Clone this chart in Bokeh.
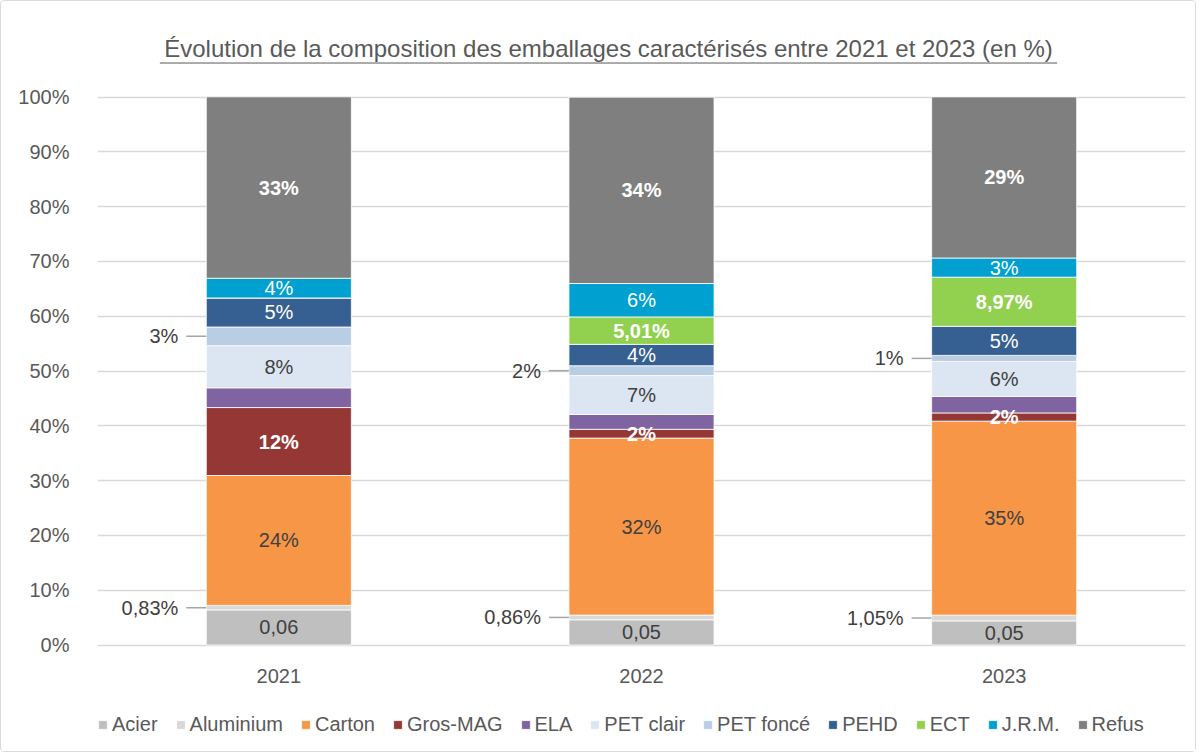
from bokeh.plotting import figure
from bokeh.models import Range1d, FixedTicker, Label, ColumnDataSource, Legend
from bokeh.embed import file_html
from bokeh.resources import INLINE
from bokeh.core.properties import value

FONT = "Liberation Sans"

title = "Évolution de la composition des emballages caractérisés entre 2021 et 2023 (en %)"
years = ["2021", "2022", "2023"]
series = ["Acier", "Aluminium", "Carton", "Gros-MAG", "ELA", "PET clair",
          "PET foncé", "PEHD", "ECT", "J.R.M.", "Refus"]
colors = ["#bfbfbf", "#d9d9d9", "#f79646", "#953735", "#8064a2", "#dce6f2",
          "#b9cde5", "#376092", "#92d050", "#00a0d0", "#7f7f7f"]

acier = [6.4, 4.6, 4.4]
aluminium = [0.83, 0.86, 1.05]
carton = [23.7, 32.3, 35.4]
gros_mag = [12.4, 1.6, 1.5]
ela = [3.6, 2.7, 3.0]
pet_clair = [7.7, 7.1, 6.4]
pet_fonce = [3.4, 1.8, 1.1]
pehd = [5.3, 3.9, 5.3]
ect = [0.0, 5.01, 8.97]
jrm = [3.6, 6.1, 3.5]
refus = [33.1, 34.0, 29.4]

acier_lbl = ["0,06", "0,05", "0,05"]
aluminium_lbl = ["0,83%", "0,86%", "1,05%"]
carton_lbl = ["24%", "32%", "35%"]
gros_mag_lbl = ["12%", "2%", "2%"]
ela_lbl = ["", "", ""]
pet_clair_lbl = ["8%", "7%", "6%"]
pet_fonce_lbl = ["3%", "2%", "1%"]
pehd_lbl = ["5%", "4%", "5%"]
ect_lbl = ["", "5,01%", "8,97%"]
jrm_lbl = ["4%", "6%", "3%"]
refus_lbl = ["33%", "34%", "29%"]

yticks = [0, 10, 20, 30, 40, 50, 60, 70, 80, 90, 100]

values = [acier, aluminium, carton, gros_mag, ela, pet_clair, pet_fonce, pehd, ect, jrm, refus]
labels = [acier_lbl, aluminium_lbl, carton_lbl, gros_mag_lbl, ela_lbl, pet_clair_lbl,
          pet_fonce_lbl, pehd_lbl, ect_lbl, jrm_lbl, refus_lbl]
style = ["dark", "out", "dark", "wbold", "none", "dark", "out", "white", "wbold", "white", "wbold"]

xs = list(range(len(years)))
BAR_W = 0.4
W, H = 1196, 752
ML, MR, MT = 96, 12, 2
PX = (W - ML - MR) / 3.0   # pixels per x unit
PY = 5.48                  # pixels per percent
Y0 = 643.5                 # pixel row (in figure) of 0 %

p = figure(width=W, height=H, output_backend="svg", toolbar_location=None,
           title_location=None,
           x_range=Range1d(-0.5, 2.5),
           y_range=Range1d(-(H - Y0) / PY, (Y0 - MT) / PY),
           min_border_left=ML, min_border_right=MR, min_border_top=MT, min_border_bottom=0)
p.outline_line_color = None
p.background_fill_color = "white"
p.border_fill_color = "white"
p.styles = {"border": "1px solid #d9d9d9", "border-radius": "4px"}

data = {"x": xs}
for name, v in zip(series, values):
    data[name] = v
src = ColumnDataSource(data)
rends = p.vbar_stack(series, x="x", width=BAR_W, color=colors, source=src,
                     line_color="white", line_width=0.8)

p.xgrid.grid_line_color = None
p.ygrid.grid_line_color = "#d9d9d9"
p.ygrid.grid_line_width = 1.5
p.yaxis.ticker = FixedTicker(ticks=yticks)
p.yaxis.major_label_overrides = {t: f"{t}%" for t in yticks}
ax = p.yaxis[0]
ax.axis_line_color = None
ax.major_tick_line_color = None
ax.minor_tick_line_color = None
ax.major_label_text_font = FONT
ax.major_label_text_font_size = "20px"
ax.major_label_text_color = "#595959"
ax.major_label_standoff = 22
p.xaxis.visible = False

# category labels under the bars
p.text(x=xs, y=[-31.0 / PY] * len(xs), text=years, text_align="center", text_baseline="middle",
       text_font=value(FONT), text_font_size="20px", text_color="#595959")

groups = {k: {"x": [], "y": [], "t": []} for k in ("dark", "white", "wbold", "out")}
lead = {"x0": [], "x1": [], "y": []}
cum = [0.0] * len(xs)
for vals, lbls, st in zip(values, labels, style):
    for j in xs:
        mid = cum[j] + vals[j] / 2
        if st != "none" and lbls[j]:
            if st == "out":
                left = j - BAR_W / 2
                groups["out"]["x"].append(left - 28 / PX)
                groups["out"]["y"].append(mid)
                groups["out"]["t"].append(lbls[j])
                lead["x0"].append(left - 20 / PX)
                lead["x1"].append(left)
                lead["y"].append(mid)
            else:
                groups[st]["x"].append(j)
                groups[st]["y"].append(mid)
                groups[st]["t"].append(lbls[j])
        cum[j] += vals[j]

p.segment(x0="x0", y0="y", x1="x1", y1="y", source=ColumnDataSource(lead),
          line_color="#a6a6a6", line_width=1.5)

specs = {"dark": ("#404040", "normal", "center"),
         "white": ("white", "normal", "center"),
         "wbold": ("white", "bold", "center"),
         "out": ("#404040", "normal", "right")}
for k, (col, fs, al) in specs.items():
    p.text(x="x", y="y", text="t", source=ColumnDataSource(groups[k]),
           text_color=col, text_font_style=fs, text_align=al, text_baseline="middle",
           text_font=value(FONT), text_font_size="20px")

# title with underline
p.add_layout(Label(x=0.909, y=108.85, text=title, text_align="center", text_baseline="middle",
                   text_font=FONT, text_font_size="24px", text_color="#595959"))
p.segment(x0=[-0.328], y0=[106.2], x1=[2.146], y1=[106.2], line_color="#595959", line_width=1)

legend = Legend(items=[(name, [r]) for name, r in zip(series, rends)],
                orientation="horizontal", location=(0, 17))
legend.label_text_font = FONT
legend.label_text_font_size = "20px"
legend.label_text_color = "#595959"
legend.glyph_width = 11
legend.glyph_height = 11
legend.label_standoff = 4
legend.spacing = 17
legend.padding = 0
legend.margin = 0
legend.border_line_color = None
legend.background_fill_alpha = 0
p.add_layout(legend, "center")

open("out.html", "w").write(file_html(p, INLINE))
